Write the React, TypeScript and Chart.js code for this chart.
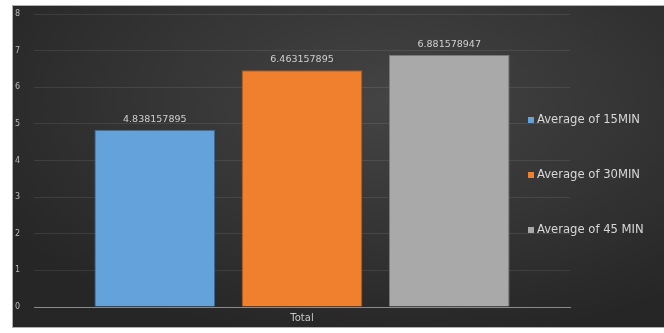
import React, { useEffect, useRef } from "react";
import { Chart, registerables } from "chart.js";

Chart.register(...registerables);

const categories = ["Total"];
const seriesLabels = ["Average of 15MIN", "Average of 30MIN", "Average of 45 MIN"];
const avg15 = [4.838157895];
const avg30 = [6.463157895];
const avg45 = [6.881578947];
const valueLabels = ["4.838157895", "6.463157895", "6.881578947"];
const yTicks = [0, 1, 2, 3, 4, 5, 6, 7, 8];

const fills = ["#64a2dc", "#f07f2e", "#a9a9a9"];
const edges = ["#3d6790", "#a9561c", "#7a7a7a"];

const FONT = "'DejaVu Sans', 'Open Sans', sans-serif";

const labelPlugin = {
  id: "valueLabels",
  afterDatasetsDraw(chart: any) {
    const ctx = chart.ctx;
    ctx.save();
    ctx.font = `9.5px ${FONT}`;
    ctx.fillStyle = "#d0d0d0";
    ctx.textAlign = "center";
    ctx.textBaseline = "alphabetic";
    chart.data.datasets.forEach((ds: any, i: number) => {
      const meta = chart.getDatasetMeta(i);
      meta.data.forEach((bar: any) => {
        ctx.fillText(valueLabels[i], bar.x, bar.y - 8);
      });
    });
    ctx.restore();
  },
};

const legendPlugin = {
  id: "sideLegend",
  afterDraw(chart: any) {
    const ctx = chart.ctx;
    const area = chart.chartArea;
    const x = area.right - 42;
    const offsets = [106, 161, 216];
    ctx.save();
    ctx.font = `11.6px ${FONT}`;
    ctx.textBaseline = "middle";
    ctx.textAlign = "left";
    chart.data.datasets.forEach((ds: any, i: number) => {
      const y = area.top + offsets[i];
      ctx.fillStyle = fills[i];
      ctx.fillRect(x, y - 3, 6, 6);
      ctx.fillStyle = "#d8d8d8";
      ctx.fillText(ds.label, x + 9, y);
    });
    ctx.restore();
  },
};

export default function App() {
  const ref = useRef<HTMLCanvasElement>(null);

  useEffect(() => {
    document.body.style.margin = "0";
    const canvas = ref.current;
    if (!canvas) return;
    const series = [avg15, avg30, avg45];
    const chart = new Chart(canvas, {
      type: "bar",
      data: {
        labels: categories,
        datasets: series.map((vals, i) => ({
          label: seriesLabels[i],
          data: vals,
          backgroundColor: fills[i],
          borderColor: edges[i],
          borderWidth: 1,
          categoryPercentage: 0.824,
          barPercentage: 0.82,
        })),
      },
      options: {
        animation: false,
        responsive: false,
        maintainAspectRatio: false,
        layout: { padding: { top: 8, right: 94, bottom: 0, left: 2 } },
        plugins: {
          legend: { display: false },
          tooltip: { enabled: false },
        },
        scales: {
          x: {
            grid: { display: false, drawTicks: false },
            border: { display: true, color: "#8a8a8a", width: 1 },
            ticks: {
              color: "#c8c8c8",
              font: { family: FONT, size: 10 },
              padding: 5,
            },
            afterFit: (s: any) => {
              s.height = 20;
            },
          },
          y: {
            min: 0,
            max: 8,
            afterBuildTicks: (s: any) => {
              s.ticks = yTicks.map((v) => ({ value: v }));
            },
            grid: {
              color: (c: any) => (c.tick && c.tick.value === 0 ? "#8a8a8a" : "rgba(255,255,255,0.09)"),
              drawTicks: false,
            },
            border: { display: false },
            ticks: {
              color: "#b8b8b8",
              font: { family: FONT, size: 8 },
              padding: 0,
              crossAlign: "far",
            },
            afterFit: (s: any) => {
              s.width = 19;
            },
          },
        },
      },
      plugins: [labelPlugin, legendPlugin],
    });
    return () => chart.destroy();
  }, []);

  return (
    <div style={{ position: "relative", width: 664, height: 333, background: "#ffffff", overflow: "hidden" }}>
      <div
        style={{
          position: "absolute",
          left: 12,
          top: 5,
          width: 652,
          height: 323,
          boxSizing: "border-box",
          borderTop: "1px solid #b0b0b0",
          borderLeft: "1px solid #b0b0b0",
          borderBottom: "1px solid #b0b0b0",
          background: "radial-gradient(ellipse 70% 75% at 58% 30%, #444444 0%, #343434 55%, #262626 100%)",
        }}
      >
        <canvas ref={ref} width={651} height={321} style={{ display: "block" }} />
      </div>
    </div>
  );
}
